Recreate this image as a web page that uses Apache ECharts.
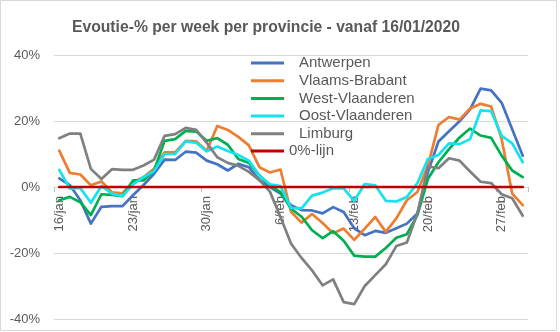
<!DOCTYPE html>
<html>
<head>
<meta charset="utf-8">
<script src="https://cdn.jsdelivr.net/npm/echarts@6/dist/echarts.min.js"></script>
<style>
  html, body { margin: 0; padding: 0; background: #fff; }
  #chart { width: 560px; height: 332px; }
</style>
</head>
<body>
<div id="chart"></div>
<script>
// Daily dates, 16 Jan to 29 Feb 2020
const dates = [
  '16/jan','17/jan','18/jan','19/jan','20/jan','21/jan','22/jan','23/jan','24/jan','25/jan',
  '26/jan','27/jan','28/jan','29/jan','30/jan','31/jan','1/feb','2/feb','3/feb','4/feb',
  '5/feb','6/feb','7/feb','8/feb','9/feb','10/feb','11/feb','12/feb','13/feb','14/feb',
  '15/feb','16/feb','17/feb','18/feb','19/feb','20/feb','21/feb','22/feb','23/feb','24/feb',
  '25/feb','26/feb','27/feb','28/feb','29/feb'
];

// Week-over-week evolution in percent, per province
const antwerpen = [
  2.6, 0.6, -4.0, -11.1, -6.0, -5.8, -5.8, -2.5, 0.6, 4.0,
  8.3, 8.2, 10.7, 10.4, 8.0, 6.9, 5.0, 7.0, 6.0, 2.0,
  0.0, -2.0, -5.5, -7.0, -7.1, -8.0, -6.1, -7.6, -12.5, -14.6,
  -13.3, -13.9, -12.5, -11.1, -8.0, 4.5, 13.8, 16.9, 19.9, 23.5,
  29.8, 29.3, 25.5, 17.5, 9.5
];
const vlaamsBrabant = [
  11.0, 4.3, 3.8, 0.5, 1.7, -1.6, -1.9, 1.5, 3.0, 5.5,
  10.5, 10.5, 14.0, 13.8, 11.0, 18.5, 17.3, 15.2, 12.6, 6.0,
  4.4, 5.3, -7.5, -10.8, -8.2, -10.9, -14.0, -12.6, -16.0, -12.6,
  -9.1, -13.6, -9.5, -4.0, -1.5, 6.5, 18.8, 21.2, 20.4, 23.8,
  25.2, 24.4, 14.5, -2.0, -5.5
];
const westVlaanderen = [
  -4.0, -3.0, -4.6, -8.5, -2.2, -2.4, -2.8, 2.0, 2.0, 5.0,
  14.0, 14.5, 17.0, 16.8, 14.0, 14.8, 12.8, 8.5, 7.3, 3.5,
  0.3, -1.5, -6.5, -9.0, -13.1, -15.5, -13.4, -16.3, -20.8, -21.1,
  -21.1, -18.5, -15.4, -14.3, -8.5, 2.5, 7.5, 11.5, 15.0, 17.7,
  15.6, 14.9, 9.5, 5.0, 3.0
];
const oostVlaanderen = [
  5.2, -0.5, -0.3, -4.8, 0.3, -2.0, -2.8, 0.8, 3.0, 4.8,
  10.0, 10.0, 13.8, 13.4, 10.8, 12.3, 10.9, 9.7, 8.0, 3.5,
  0.8, 0.3, -6.3, -6.5, -2.6, -1.7, -0.4, -0.4, -4.2, 0.9,
  0.5, -4.2, -4.4, -3.0, 1.2, 8.5, 9.7, 13.2, 13.0, 14.5,
  23.2, 23.0, 15.5, 13.2, 7.5
];
const limburg = [
  14.8, 16.2, 16.2, 5.5, 2.4, 5.4, 5.2, 5.2, 6.5, 8.3,
  15.5, 16.0, 17.9, 17.3, 13.4, 9.0, 7.3, 6.4, 4.6, 2.1,
  -1.4, -9.1, -17.1, -21.5, -25.3, -29.8, -28.0, -34.9, -35.5, -30.0,
  -26.7, -23.4, -17.9, -16.8, -8.0, 6.2, 5.7, 8.7, 8.0, 4.7,
  1.6, 1.2, -2.2, -3.4, -8.7
];
// Reference line at 0 %
const nulLijn = dates.map(() => 0);

const yTicks = { min: -40, max: 40, step: 20 };

const FONT = '"Liberation Sans", Arial, sans-serif';
const GREY_TEXT = '#595959';
const GRID_LINE = '#D9D9D9';

// Plot area geometry
const GRID_TOP = 55;
const GRID_HEIGHT = 264;
// Category axis sits on the 0 % level, moved up from the bottom of the plot
const ZERO_OFFSET = -GRID_HEIGHT * (0 - yTicks.min) / (yTicks.max - yTicks.min);

function lineSeries(name, data, color, z) {
  return {
    name: name,
    type: 'line',
    data: data,
    symbol: 'none',
    showSymbol: false,
    z: z,
    lineStyle: { color: color, width: 2.7, cap: 'round', join: 'round' },
    itemStyle: { color: color },
    emphasis: { disabled: true },
    animation: false
  };
}

const legendText = { fontFamily: FONT, fontSize: 15, lineHeight: 16, color: GREY_TEXT };

const chart = echarts.init(document.getElementById('chart'), null, { renderer: 'canvas' });

chart.setOption({
  animation: false,
  backgroundColor: '#ffffff',
  title: {
    text: 'Evoutie-% per week per provincie - vanaf 16/01/2020',
    left: 261,
    top: 15,
    textAlign: 'center',
    textStyle: { fontFamily: FONT, fontSize: 15.7, fontWeight: 'bold', color: GREY_TEXT }
  },
  graphic: [{
    type: 'rect',
    silent: true,
    shape: { x: 0.5, y: 0.5, width: 556, height: 330 },
    style: { fill: 'none', stroke: '#D9D9D9', lineWidth: 1 }
  }],
  legend: [{
    data: ['Antwerpen', 'Vlaams-Brabant', 'West-Vlaanderen', 'Oost-Vlaanderen', 'Limburg'],
    orient: 'vertical',
    left: 251,
    top: 55,
    padding: 0,
    icon: 'rect',
    itemWidth: 33,
    itemHeight: 3,
    itemGap: 1.7,
    selectedMode: false,
    textStyle: Object.assign({ padding: [0, 0, 0, 10] }, legendText)
  }, {
    data: ['0%-lijn'],
    orient: 'vertical',
    left: 251,
    top: 143,
    padding: 0,
    icon: 'rect',
    itemWidth: 33,
    itemHeight: 3,
    selectedMode: false,
    textStyle: legendText
  }],
  grid: {
    left: 54, right: 32, top: GRID_TOP, height: GRID_HEIGHT,
    containLabel: false,
    outerBoundsMode: 'none'
  },
  xAxis: {
    type: 'category',
    data: dates,
    boundaryGap: true,
    position: 'bottom',
    offset: ZERO_OFFSET,
    axisLine: { onZero: false, lineStyle: { color: GRID_LINE, width: 1 } },
    axisTick: { show: true, interval: 6, length: 5, lineStyle: { color: '#BFBFBF' } },
    axisLabel: {
      interval: 6,
      rotate: 90,
      margin: 9,
      fontFamily: FONT,
      fontSize: 13,
      color: GREY_TEXT
    },
    splitLine: { show: false }
  },
  yAxis: {
    type: 'value',
    min: yTicks.min,
    max: yTicks.max,
    interval: yTicks.step,
    axisLine: { show: false },
    axisTick: { show: false },
    axisLabel: {
      formatter: v => v + '%',
      margin: 14,
      fontFamily: FONT,
      fontSize: 13,
      color: GREY_TEXT
    },
    splitLine: { lineStyle: { color: GRID_LINE, width: 1 } }
  },
  series: [
    lineSeries('Antwerpen', antwerpen, '#4472C4', 2),
    lineSeries('Vlaams-Brabant', vlaamsBrabant, '#ED7D31', 3),
    lineSeries('West-Vlaanderen', westVlaanderen, '#00B050', 4),
    lineSeries('Oost-Vlaanderen', oostVlaanderen, '#14E2F0', 5),
    lineSeries('Limburg', limburg, '#808080', 6),
    lineSeries('0%-lijn', nulLijn, '#C00000', 7)
  ]
});
</script>
</body>
</html>
